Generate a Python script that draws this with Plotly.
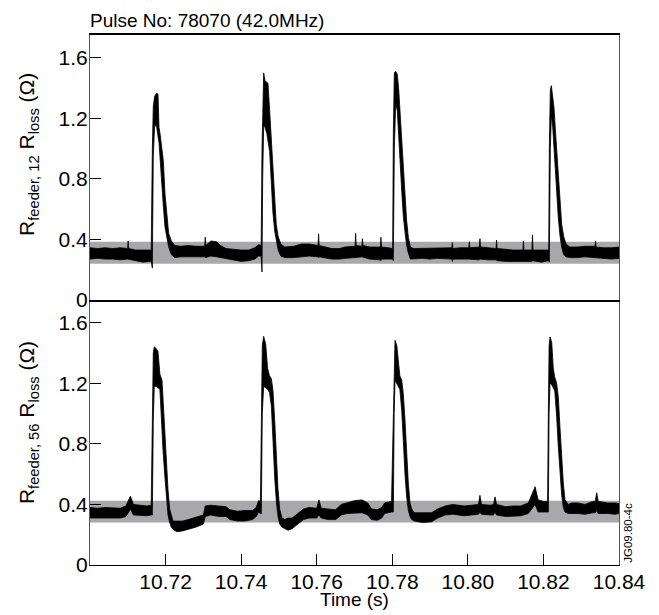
import plotly.graph_objects as go

# ---------------- data ----------------
x_tick_vals = [10.72, 10.74, 10.76, 10.78, 10.80, 10.82, 10.84]
x_tick_text = ["10.72", "10.74", "10.76", "10.78", "10.80", "10.82", "10.84"]
y_tick_vals = [0, 0.4, 0.8, 1.2, 1.6]
y_tick_text = ["0", "0.4", "0.8", "1.2", "1.6"]

# grey reference bands (low, high)
top_band = [0.24, 0.385]
bot_band = [0.28, 0.425]

# top panel trace: time (s), lower and upper edge of the noisy trace
top_time = [10.7000, 10.7020, 10.7040, 10.7060, 10.7080, 10.70995, 10.7101, 10.71025, 10.7120, 10.7140,
            10.7162, 10.7165, 10.71675, 10.7171, 10.7176, 10.7180, 10.71826, 10.71853, 10.7190, 10.71941,
            10.71985, 10.72038, 10.72082, 10.72153, 10.72241, 10.7240, 10.7260, 10.7280, 10.73035, 10.7305,
            10.73065, 10.7320, 10.7335, 10.7345, 10.7360, 10.7380, 10.7400, 10.7420, 10.7436, 10.7446,
            10.7453, 10.74552, 10.7457, 10.74596, 10.7463, 10.7468, 10.7471, 10.74755, 10.7480, 10.7484,
            10.7489, 10.7493, 10.7498, 10.7505, 10.7515, 10.7540, 10.7560, 10.7580, 10.76035, 10.7605,
            10.76065, 10.7620, 10.7640, 10.7660, 10.7675, 10.77015, 10.7703, 10.77045, 10.77195, 10.7721,
            10.77225, 10.7740, 10.77685, 10.7770, 10.77715, 10.7790, 10.7801, 10.78028, 10.78054, 10.7809,
            10.78133, 10.7817, 10.78204, 10.7825, 10.7829, 10.7834, 10.7838, 10.78425, 10.7848, 10.7856,
            10.7880, 10.7900, 10.7920, 10.79575, 10.7959, 10.79605, 10.7980, 10.80025, 10.8004, 10.80055,
            10.80305, 10.8032, 10.80335, 10.8055, 10.80745, 10.8076, 10.80775, 10.8100, 10.8120, 10.81455,
            10.8147, 10.81485, 10.81695, 10.8171, 10.81725, 10.8195, 10.8214, 10.82156, 10.82183, 10.8221,
            10.82244, 10.8228, 10.82315, 10.8235, 10.82394, 10.8244, 10.82483, 10.82536, 10.82597, 10.8270,
            10.8290, 10.8310, 10.83365, 10.8338, 10.83395, 10.8360, 10.8380, 10.8400]
top_low = [0.27, 0.275, 0.27, 0.27, 0.265, 0.27, 0.27, 0.265, 0.26, 0.25,
           0.255, 0.21, 0.95, 1.15, 1.15, 1.08, 1.04, 0.98, 0.78, 0.62,
           0.48, 0.40, 0.35, 0.30, 0.28, 0.285, 0.29, 0.285, 0.285, 0.28,
           0.285, 0.29, 0.285, 0.28, 0.27, 0.265, 0.255, 0.26, 0.27, 0.29,
           0.29, 0.185, 0.80, 1.15, 1.14, 1.10, 1.05, 0.98, 0.75, 0.58,
           0.45, 0.39, 0.33, 0.29, 0.28, 0.28, 0.285, 0.29, 0.285, 0.28,
           0.285, 0.28, 0.27, 0.27, 0.275, 0.28, 0.28, 0.28, 0.285, 0.285,
           0.28, 0.27, 0.265, 0.26, 0.27, 0.27, 0.27, 0.26, 1.00, 1.30,
           1.25, 1.10, 0.92, 0.72, 0.56, 0.44, 0.36, 0.31, 0.27, 0.27,
           0.275, 0.27, 0.275, 0.27, 0.255, 0.27, 0.27, 0.27, 0.27, 0.27,
           0.265, 0.27, 0.27, 0.265, 0.265, 0.265, 0.26, 0.255, 0.25, 0.255,
           0.255, 0.255, 0.255, 0.26, 0.255, 0.25, 0.26, 0.25, 1.00, 1.22,
           1.15, 1.02, 0.88, 0.72, 0.54, 0.42, 0.35, 0.30, 0.285, 0.28,
           0.28, 0.285, 0.28, 0.28, 0.28, 0.275, 0.27, 0.275]
top_high = [0.345, 0.34, 0.345, 0.34, 0.345, 0.34, 0.39, 0.34, 0.33, 0.33,
            0.33, 1.00, 1.28, 1.345, 1.365, 1.36, 1.14, 1.10, 1.01, 0.92,
            0.70, 0.53, 0.44, 0.39, 0.36, 0.355, 0.36, 0.355, 0.355, 0.415,
            0.36, 0.39, 0.385, 0.36, 0.34, 0.335, 0.33, 0.33, 0.345, 0.365,
            0.36, 1.00, 1.35, 1.50, 1.45, 1.44, 1.43, 1.25, 1.07, 0.88,
            0.66, 0.50, 0.42, 0.37, 0.35, 0.355, 0.37, 0.37, 0.36, 0.437,
            0.36, 0.35, 0.34, 0.34, 0.35, 0.355, 0.44, 0.36, 0.355, 0.405,
            0.36, 0.35, 0.35, 0.415, 0.35, 0.345, 0.34, 1.10, 1.50, 1.51,
            1.49, 1.39, 1.25, 1.03, 0.83, 0.66, 0.525, 0.415, 0.35, 0.34,
            0.34, 0.345, 0.34, 0.345, 0.38, 0.34, 0.345, 0.345, 0.385, 0.345,
            0.35, 0.405, 0.35, 0.345, 0.34, 0.395, 0.34, 0.335, 0.33, 0.33,
            0.39, 0.33, 0.33, 0.43, 0.33, 0.33, 0.33, 1.00, 1.39, 1.415,
            1.36, 1.27, 1.13, 1.01, 0.83, 0.66, 0.50, 0.42, 0.37, 0.35,
            0.35, 0.355, 0.355, 0.39, 0.35, 0.345, 0.345, 0.35]

# bottom panel trace
bot_time = [10.7000, 10.7020, 10.7040, 10.7060, 10.7080, 10.7095, 10.7107, 10.7115, 10.7130, 10.7150,
            10.7162, 10.7165, 10.71675, 10.7170, 10.7175, 10.7180, 10.7185, 10.71906, 10.71932, 10.71976,
            10.7202, 10.72064, 10.72108, 10.72153, 10.72197, 10.7230, 10.7245, 10.7260, 10.7280, 10.7300,
            10.7305, 10.7320, 10.7340, 10.7360, 10.7370, 10.7390, 10.7410, 10.7430, 10.7440, 10.7446,
            10.7451, 10.74534, 10.7456, 10.74596, 10.7465, 10.7470, 10.7475, 10.7480, 10.74843, 10.74887,
            10.74931, 10.74976, 10.7502, 10.75081, 10.75152, 10.7524, 10.7535, 10.7550, 10.7565, 10.7580,
            10.7600, 10.7606, 10.7612, 10.7630, 10.7650, 10.7665, 10.7680, 10.7700, 10.7720, 10.7735,
            10.7745, 10.7760, 10.7772, 10.7780, 10.7798, 10.78028, 10.7805, 10.78072, 10.7812, 10.7816,
            10.7820, 10.7825, 10.78292, 10.78336, 10.7838, 10.78425, 10.78469, 10.78513, 10.78583, 10.7880,
            10.7904, 10.7920, 10.7940, 10.7960, 10.7975, 10.7990, 10.8010, 10.8028, 10.8032, 10.8036,
            10.8060, 10.8068, 10.8072, 10.8076, 10.8100, 10.8120, 10.8140, 10.8160, 10.8178, 10.8186,
            10.8200, 10.8211, 10.8213, 10.8215, 10.82174, 10.8222, 10.8226, 10.8230, 10.8235, 10.82394,
            10.82438, 10.82483, 10.82527, 10.82571, 10.8266, 10.8275, 10.8290, 10.8310, 10.8330, 10.8337,
            10.8341, 10.8345, 10.8370, 10.8390, 10.8400]
bot_low = [0.31, 0.31, 0.305, 0.31, 0.31, 0.32, 0.37, 0.33, 0.33, 0.325,
           0.33, 0.33, 0.95, 1.18, 1.18, 1.17, 1.16, 0.92, 0.76, 0.60,
           0.45, 0.33, 0.28, 0.25, 0.235, 0.22, 0.225, 0.235, 0.25, 0.27,
           0.32, 0.33, 0.32, 0.32, 0.30, 0.29, 0.29, 0.30, 0.32, 0.35,
           0.34, 0.34, 1.00, 1.18, 1.17, 1.16, 1.14, 1.05, 0.82, 0.58,
           0.42, 0.32, 0.27, 0.25, 0.24, 0.23, 0.24, 0.27, 0.30, 0.31,
           0.31, 0.33, 0.31, 0.30, 0.30, 0.33, 0.34, 0.345, 0.345, 0.33,
           0.30, 0.295, 0.31, 0.34, 0.35, 0.35, 1.00, 1.22, 1.20, 1.18,
           1.16, 1.02, 0.82, 0.60, 0.45, 0.36, 0.32, 0.30, 0.29, 0.28,
           0.285, 0.31, 0.33, 0.335, 0.33, 0.325, 0.33, 0.335, 0.35, 0.335,
           0.33, 0.33, 0.35, 0.33, 0.32, 0.325, 0.325, 0.34, 0.40, 0.35,
           0.35, 0.35, 0.35, 1.00, 1.20, 1.19, 1.17, 1.15, 0.98, 0.78,
           0.60, 0.46, 0.38, 0.35, 0.34, 0.34, 0.34, 0.335, 0.345, 0.345,
           0.36, 0.34, 0.34, 0.335, 0.34]
bot_high = [0.38, 0.375, 0.38, 0.375, 0.375, 0.39, 0.455, 0.40, 0.395, 0.39,
            0.395, 1.00, 1.40, 1.44, 1.43, 1.41, 1.26, 1.22, 1.09, 0.85,
            0.65, 0.50, 0.37, 0.32, 0.29, 0.29, 0.29, 0.30, 0.315, 0.33,
            0.39, 0.395, 0.39, 0.385, 0.365, 0.355, 0.36, 0.36, 0.38, 0.425,
            0.42, 1.00, 1.45, 1.51, 1.46, 1.30, 1.25, 1.23, 1.15, 0.96,
            0.69, 0.50, 0.37, 0.31, 0.30, 0.31, 0.31, 0.34, 0.37, 0.38,
            0.375, 0.43, 0.375, 0.37, 0.365, 0.40, 0.41, 0.425, 0.43, 0.41,
            0.37, 0.365, 0.38, 0.41, 0.42, 1.00, 1.42, 1.484, 1.45, 1.35,
            1.25, 1.22, 1.13, 0.96, 0.74, 0.54, 0.41, 0.37, 0.345, 0.345,
            0.345, 0.37, 0.39, 0.40, 0.395, 0.39, 0.395, 0.40, 0.46, 0.40,
            0.395, 0.40, 0.45, 0.40, 0.385, 0.39, 0.39, 0.41, 0.517, 0.43,
            0.42, 0.42, 1.00, 1.45, 1.506, 1.47, 1.30, 1.24, 1.20, 1.11,
            0.91, 0.715, 0.54, 0.43, 0.40, 0.41, 0.41, 0.40, 0.42, 0.42,
            0.477, 0.42, 0.41, 0.41, 0.405]

assert len(top_time) == len(top_low) == len(top_high)
assert len(bot_time) == len(bot_low) == len(bot_high)

x_range = [10.70, 10.84]
y_range = [0, 1.75]

FONT = "Liberation Sans, Arial, Helvetica, sans-serif"

fig = go.Figure()


def envelope(t, lo, hi, xa, ya):
    fig.add_trace(go.Scatter(
        x=list(t) + list(t[::-1]), y=list(hi) + list(lo[::-1]),
        mode="lines", fill="toself", fillcolor="black",
        line=dict(color="black", width=0.8), xaxis=xa, yaxis=ya,
        hoverinfo="skip", showlegend=False))


envelope(top_time, top_low, top_high, "x2", "y2")
envelope(bot_time, bot_low, bot_high, "x", "y")

shapes = [
    dict(type="rect", xref="x2", yref="y2", x0=x_range[0], x1=x_range[1],
         y0=top_band[0], y1=top_band[1], fillcolor="#a8a8ac", line=dict(width=0), layer="below"),
    dict(type="rect", xref="x", yref="y", x0=x_range[0], x1=x_range[1],
         y0=bot_band[0], y1=bot_band[1], fillcolor="#a8a8ac", line=dict(width=0), layer="below"),
]

yax = dict(range=y_range, tickvals=y_tick_vals, ticktext=y_tick_text,
           ticks="inside", ticklen=11, tickcolor="black", tickwidth=1,
           showline=True, linecolor="#555", linewidth=1, mirror=True,
           showgrid=False, zeroline=False, ticklabelstandoff=-3,
           tickfont=dict(family=FONT, size=21, color="black"))

# the page body has an 8px default margin: figure size and margins are set so
# the plot area lands at x 90-619, y 35-565 in the 659x615 window
fig.update_layout(
    width=651, height=607,
    margin=dict(l=82, r=40, t=27, b=50),
    paper_bgcolor="white", plot_bgcolor="white",
    font=dict(family=FONT, size=19, color="black"),
    shapes=shapes,
    xaxis=dict(domain=[0, 1], anchor="y", range=x_range, tickvals=x_tick_vals, ticktext=x_tick_text,
               ticks="inside", ticklen=11, tickcolor="black", tickwidth=1,
               showline=True, linecolor="black", linewidth=1, mirror=False,
               showgrid=False, zeroline=False, ticklabelstandoff=-2,
               tickfont=dict(family=FONT, size=21, color="black")),
    xaxis2=dict(domain=[0, 1], anchor="y2", range=x_range, matches="x",
                showticklabels=False, ticks="",
                showline=True, linecolor="black", linewidth=1.5, mirror=True,
                showgrid=False, zeroline=False),
    yaxis=dict(domain=[0, 0.5], anchor="x", **yax),
    yaxis2=dict(domain=[0.5, 1], anchor="x2", **yax),
    annotations=[
        dict(text="Pulse No: 78070 (42.0MHz)", xref="paper", yref="paper", x=-0.004, y=1.027,
             xanchor="left", yanchor="middle", showarrow=False, font=dict(family=FONT, size=19)),
        dict(text="R<sub>feeder, 12</sub> R<sub>loss</sub> (Ω)", xref="paper", yref="paper",
             x=-0.117, y=0.774, xanchor="center", yanchor="middle", textangle=-90, showarrow=False,
             font=dict(family=FONT, size=21)),
        dict(text="R<sub>feeder, 56</sub> R<sub>loss</sub> (Ω)", xref="paper", yref="paper",
             x=-0.117, y=0.268, xanchor="center", yanchor="middle", textangle=-90, showarrow=False,
             font=dict(family=FONT, size=21)),
        dict(text="Time (s)", xref="paper", yref="paper", x=0.5, y=-0.066,
             xanchor="center", yanchor="middle", showarrow=False, font=dict(family=FONT, size=19)),
        dict(text="JG09.80-4c", xref="paper", yref="paper", x=1.018, y=0.06,
             xanchor="center", yanchor="middle", textangle=-90, showarrow=False,
             font=dict(family=FONT, size=11.5)),
    ],
)

fig.write_html("out.html")
